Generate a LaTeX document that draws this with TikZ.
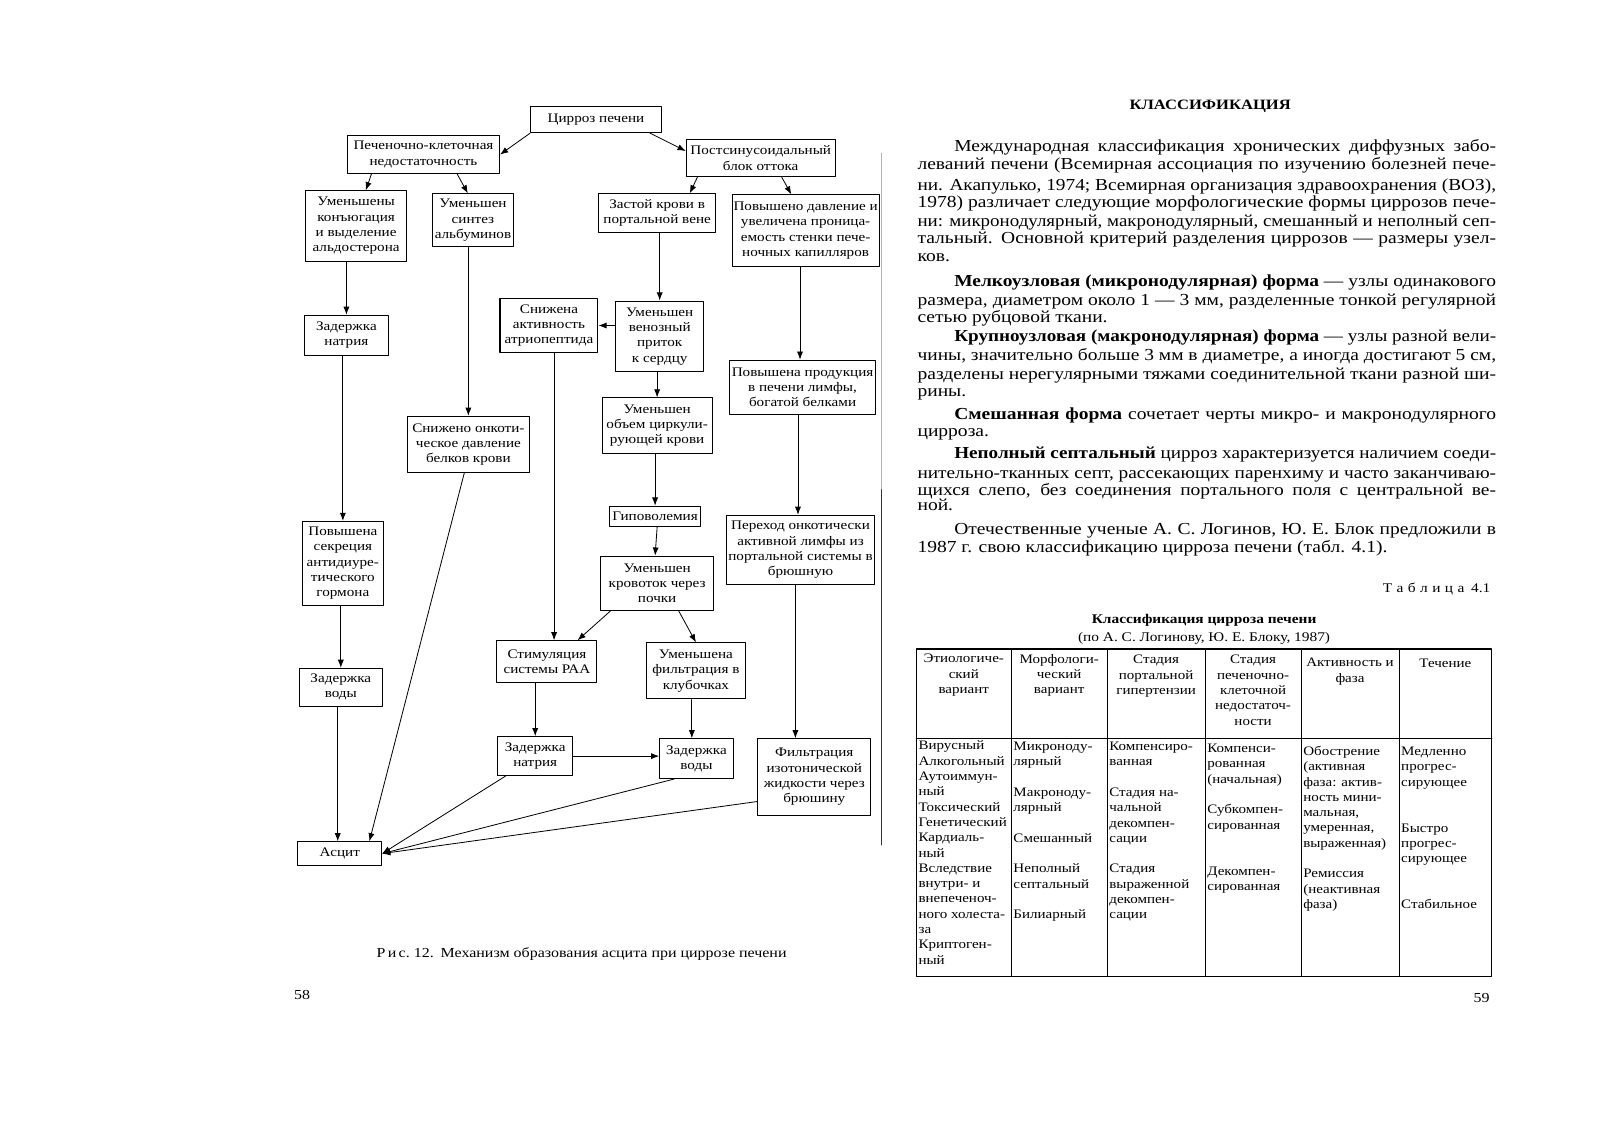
\documentclass[tikz,border=0pt]{standalone}
\usepackage{fontspec}
\usepackage{graphicx}
\setmainfont{Liberation Serif}[FakeStretch=1.16]
\usetikzlibrary{arrows.meta,calc}

\newcommand\boxfont{\fontsize{12.8}{15}\selectfont}
\newcommand\bodyfont{\fontsize{16.5}{18}\selectfont}
\newcommand\tabfont{\fontsize{12.7}{15}\selectfont}
% justified line, squeezed when too long
\newcommand\jline[2]{\sbox0{#2}\ifdim\wd0>#1\relax\resizebox{#1}{\height}{\usebox0}\else\makebox[#1][s]{#2}\fi}

\begin{document}
\begin{tikzpicture}[x=1pt,y=-1pt,line cap=round,line join=round,
  box/.style={draw,line width=1pt,inner sep=1pt,align=center,font=\boxfont},
  arr/.style={line width=0.8pt,-{Latex[length=8pt,width=6pt]}},
  cell/.style={inner sep=0pt,font=\tabfont}]
  \fill[white] (0,0) rectangle (1568,1110);
  \useasboundingbox (0,0) rectangle (1568,1110);

  % left page: scheme
  \node[box,minimum width=128,minimum height=26] (cirr) at (584,117) {Цирроз печени};
  \node[box,minimum width=149,minimum height=37] (pkn) at (415,151.5) {Печеночно-клеточная\\недостаточность};
  \node[box,minimum width=146,minimum height=36] (psb) at (745.5,155) {Постсинусоидальный\\блок оттока};
  \node[box,minimum width=99,minimum height=69] (ukv) at (349,221.5) {Уменьшены\\конъюгация\\и выделение\\альдостерона};
  \node[box,minimum width=80,minimum height=52] (usa) at (463.5,216) {Уменьшен\\синтез\\альбуминов};
  \node[box,minimum width=114,minimum height=38] (zkp) at (644,209) {Застой крови в\\портальной вене};
  \node[box,minimum width=144,minimum height=70] (pdp) at (789.5,226) {Повышено давление и\\увеличена проница-\\емость стенки пече-\\ночных капилляров};
  \node[box,minimum width=82,minimum height=39] (zn1) at (339.5,328.5) {Задержка\\натрия};
  \node[box,minimum width=96,minimum height=52] (saa) at (538,319) {Снижена\\активность\\атриопептида};
  \node[box,minimum width=86,minimum height=69] (uvp) at (646.5,329.5) {Уменьшен\\венозный\\приток\\к сердцу};
  \node[box,minimum width=143,minimum height=53] (ppl) at (786.5,379.5) {Повышена продукция\\в печени лимфы,\\богатой белками};
  \node[box,minimum width=108,minimum height=54] (uok) at (644,417) {Уменьшен\\объем циркули-\\рующей крови};
  \node[box,minimum width=120,minimum height=55] (sod) at (459,435.5) {Снижено онкоти-\\ческое давление\\белков крови};
  \node[box,minimum width=89,minimum height=20] (gip) at (642,506) {Гиповолемия};
  \node[box,minimum width=145,minimum height=68] (pol) at (784.5,539) {Переход онкотически\\активной лимфы из\\портальной системы в\\брюшную};
  \node[box,minimum width=80,minimum height=82] (psa) at (336,552) {Повышена\\секреция\\антидиуре-\\тического\\гормона};
  \node[box,minimum width=111,minimum height=53] (ukp) at (644,571.5) {Уменьшен\\кровоток через\\почки};
  \node[box,minimum width=98,minimum height=41] (raa) at (536,648.5) {Стимуляция\\системы РАА};
  \node[box,minimum width=97,minimum height=55] (ufk) at (682,657.5) {Уменьшена\\фильтрация в\\клубочках};
  \node[box,minimum width=81,minimum height=37] (zv1) at (334,673.5) {Задержка\\воды};
  \node[box,minimum width=73,minimum height=38] (zn2) at (524.5,741) {Задержка\\натрия};
  \node[box,minimum width=72,minimum height=39] (zv2) at (682.5,743.5) {Задержка\\воды};
  \node[box,minimum width=111,minimum height=75] (fiz) at (798,761.5) {Фильтрация\\изотонической\\жидкости через\\брюшину};
  \node[box,minimum width=82,minimum height=23] (asc) at (333,836.5) {Асцит};

  \draw[arr] (cirr.south west) -- (pkn.east);
  \draw[arr] ([xshift=53pt]cirr.south) -- ([yshift=7pt]psb.west);
  \draw[arr] ([xshift=-51pt]pkn.south) -- ([xshift=9.5pt]ukv.north);
  \draw[arr] ([xshift=33pt]pkn.south) -- ([xshift=-5pt]usa.north);
  \draw[arr] ([xshift=-62pt]psb.south) -- ([xshift=32pt]zkp.north);
  \draw[arr] ([xshift=20.5pt]psb.south) -- ([xshift=-14pt]pdp.north);
  \draw[arr] (ukv.south -| zn1.north) -- (zn1.north);
  \draw[arr] (zn1.south -| psa.north) -- (psa.north);
  \draw[arr] (psa.south -| zv1.north) -- (zv1.north);
  \draw[arr] ([xshift=-3pt]zv1.south) -- ([xshift=-3pt]zv1.south |- asc.north);
  \draw[arr] (usa.south -| sod.north) -- (sod.north);
  \draw[arr] ([xshift=-4pt]sod.south) -- ([xshift=29pt]asc.north);
  \draw[arr] (zkp.south -| uvp.north) -- (uvp.north);
  \draw[arr] (uvp.west |- saa.east) -- (saa.east);
  \draw[arr] ([xshift=7pt]raa.north |- saa.south) -- ([xshift=7pt]raa.north);
  \draw[arr] (uvp.south -| uok.north) -- (uok.north);
  \draw[arr] (uok.south -| gip.north) -- (gip.north);
  \draw[arr] (gip.south -| ukp.north) -- (gip.south |- ukp.north);
  \draw[arr] ([xshift=-45.5pt]ukp.south) -- ([xshift=30pt]raa.north);
  \draw[arr] ([xshift=21pt]ukp.south) -- (ufk.north);
  \draw[arr] (raa.south -| zn2.north) -- (zn2.north);
  \draw[arr] ([xshift=-4.5pt]zv2.north |- ufk.south) -- ([xshift=-4.5pt]zv2.north);
  \draw[arr] (zn2.east) -- (zv2.west |- zn2.east);
  \draw[arr] ([xshift=-29pt]zn2.south) -- (asc.east);
  \draw[arr] ([xshift=-22pt]zv2.south) -- (asc.east);
  \draw[arr] ([yshift=-24pt]fiz.west) -- (asc.east);
  \draw[arr] ([xshift=-2.5pt]ppl.north |- pdp.south) -- ([xshift=-2.5pt]ppl.north);
  \draw[arr] ([xshift=-2.5pt]pol.north |- ppl.south) -- ([xshift=-2.5pt]pol.north);
  \draw[arr] ([xshift=-5pt]pol.south) -- ([xshift=-5pt]pol.south |- fiz.north);

  % gutter
  \draw[black!30,line width=0.5pt] (864,150) -- (864,480);
  \draw[black!80,line width=1.2pt] (864,480) -- (864,828);

  \node[font=\fontsize{13.5}{15}\selectfont] (cap) at (570,935) {Р\,и\,с.~12.\enskip Механизм образования асцита при циррозе печени};
  \node[font=\fontsize{13.5}{15}\selectfont] (p58) at (296,975) {58};

  % right page: text
  \node[font=\bfseries\fontsize{14}{16}\selectfont] (ttl) at (1186,104) {КЛАССИФИКАЦИЯ};
  \foreach \y/\t [count=\i] in {
      148.5/{Международная классификация хронических диффузных забо-},
      280.5/{\textbf{Мелкоузловая (микронодулярная) форма} — узлы одинакового},
      334.5/{\textbf{Крупноузловая (макронодулярная) форма} — узлы разной вели-},
      411.5/{\textbf{Смешанная форма} сочетает черты микро- и макронодулярного},
      449.5/{\textbf{Неполный септальный} цирроз характеризуется наличием соеди-},
      523.5/{Отечественные ученые А. С. Логинов, Ю. Е. Блок предложили в}}
    \node[anchor=base west,inner sep=0pt,font=\bodyfont] (ind\i) at (935,\y) {\jline{531pt}{\t}};
  \foreach \y/\t [count=\i] in {
      166.5/{леваний печени (Всемирная ассоциация по изучению болезней пече-},
      186.5/{ни. Акапулько, 1974; Всемирная организация здравоохранения (ВОЗ),},
      203.5/{1978) различает следующие морфологические формы циррозов пече-},
      221.5/{ни: микронодулярный, макронодулярный, смешанный и неполный сеп-},
      238.5/{тальный. Основной критерий разделения циррозов — размеры узел-},
      299.5/{размера, диаметром около 1 — 3 мм, разделенные тонкой регулярной},
      353.5/{чины, значительно больше 3 мм в диаметре, а иногда достигают 5 см,},
      371.5/{разделены нерегулярными тяжами соединительной ткани разной ши-},
      468.5/{нительно-тканных септ, рассекающих паренхиму и часто заканчиваю-},
      485.5/{щихся слепо, без соединения портального поля с центральной ве-}}
    \node[anchor=base west,inner sep=0pt,font=\bodyfont] (full\i) at (899,\y) {\jline{567pt}{\t}};
  \foreach \y/\t [count=\i] in {
      256.5/{ков.},
      316.5/{сетью рубцовой ткани.},
      388.5/{рины.},
      427.5/{цирроза.},
      500.5/{ной.},
      541.5/{1987 г. свою классификацию цирроза печени (табл. 4.1).}}
    \node[anchor=base west,inner sep=0pt,font=\bodyfont] (last\i) at (899,\y) {\t};

  \node[anchor=east,font=\fontsize{13}{15}\selectfont] (tnum) at (1464,577) {Т\,\,а\,\,б\,\,л\,\,и\,\,ц\,\,а\enskip 4.1};
  \node[font=\bfseries\fontsize{13}{15}\selectfont] (tttl) at (1180,608) {Классификация цирроза печени};
  \node[font=\fontsize{13}{15}\selectfont] (tsub) at (1180,626) {(по А. С. Логинову, Ю. Е. Блоку, 1987)};

  % table
  \draw[line width=1.1pt] (898,636) rectangle (1462,957);
  \draw[line width=0.9pt] (898,724) -- (1462,724);
  \foreach \x in {991,1085,1181,1275,1371}
    \draw[line width=0.9pt] (\x,636) -- (\x,957);

  \node[cell,anchor=north,align=center] (h1) at (944.5,641) {Этиологиче-\\ский\\вариант};
  \node[cell,anchor=north,align=center] (h2) at (1038,641) {Морфологи-\\ческий\\вариант};
  \node[cell,anchor=north,align=center] (h3) at (1133,642) {Стадия\\портальной\\гипертензии};
  \node[cell,anchor=north,align=center] (h4) at (1228,642) {Стадия\\печеночно-\\клеточной\\недостаточ-\\ности};
  \node[cell,anchor=north,align=center] (h5) at (1323,645) {Активность и\\фаза};
  \node[cell,anchor=north,align=center] (h6) at (1416.5,646) {Течение};

  \node[cell,anchor=north west,align=left] (c1) at (900,726) {Вирусный\\Алкогольный\\Аутоиммун-\\ный\\Токсический\\Генетический\\Кардиаль-\\ный\\Вследствие\\внутри- и\\внепеченоч-\\ного холеста-\\за\\Криптоген-\\ный};
  \node[cell,anchor=north west,align=left] (c2) at (993,727) {Микроноду-\\лярный\\[15pt]Макроноду-\\лярный\\[15pt]Смешанный\\[15pt]Неполный\\септальный\\[15pt]Билиарный};
  \node[cell,anchor=north west,align=left] (c3) at (1087,727) {Компенсиро-\\ванная\\[15pt]Стадия на-\\чальной\\декомпен-\\сации\\[15pt]Стадия\\выраженной\\декомпен-\\сации};
  \node[cell,anchor=north west,align=left] (c4) at (1183,729) {Компенси-\\рованная\\(начальная)\\[15pt]Субкомпен-\\сированная\\[30pt]Декомпен-\\сированная};
  \node[cell,anchor=north west,align=left] (c5) at (1277,731) {Обострение\\(активная\\фаза: актив-\\ность мини-\\мальная,\\умеренная,\\выраженная)\\[15pt]Ремиссия\\(неактивная\\фаза)};
  \node[cell,anchor=north west,align=left] (c6) at (1373,732) {Медленно\\прогрес-\\сирующее\\[30pt]Быстро\\прогрес-\\сирующее\\[30pt]Стабильное};

  \node[font=\fontsize{13.5}{15}\selectfont] (p59) at (1452,978) {59};
\end{tikzpicture}
\end{document}
